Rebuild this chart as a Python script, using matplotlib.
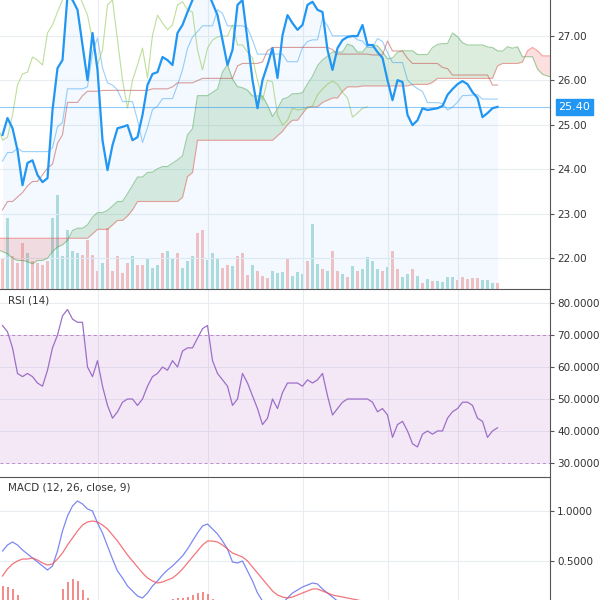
import numpy as np
import matplotlib
matplotlib.use("Agg")
import matplotlib.pyplot as plt
from matplotlib.ticker import FormatStrFormatter

# closes before the visible window (only used to seed the ichimoku lines)
history = [21.8, 21.6, 21.5, 21.7, 21.9, 22.0, 21.8, 21.6, 21.4, 21.6, 21.9, 22.2, 22.4,
           22.3, 22.1, 22.0, 22.3, 22.6, 22.8, 22.7, 22.9, 23.2, 23.5, 23.3, 23.0, 22.8,
           22.6, 22.4, 22.2, 22.0, 21.9, 22.1, 22.3, 22.5, 22.4, 22.2, 22.0, 21.8, 21.7,
           21.9, 22.2, 22.4, 22.6, 22.5, 22.3, 22.1, 22.0, 22.2, 22.4, 22.3, 22.1, 22.0,
           21.9, 21.7, 21.5, 21.4, 21.6, 21.8, 22.1, 22.4, 22.3, 22.6, 22.9, 23.1, 22.9,
           23.2, 23.5, 23.3, 23.1, 23.4, 23.7, 23.9, 23.6, 23.8, 24.1, 24.3, 24.0, 24.5]

close = [24.77, 25.15, 24.92, 24.43, 23.64, 24.14, 24.20, 23.87, 23.71, 23.80,
         25.33, 26.27, 26.45, 27.90, 27.80, 27.58, 26.79, 26.00, 27.06, 26.23,
         24.65, 23.98, 24.54, 24.92, 24.95, 24.99, 24.65, 24.72, 25.22, 25.89,
         26.14, 26.18, 26.52, 26.45, 26.34, 27.06, 27.24, 27.53, 27.80, 28.00,
         28.10, 28.00, 27.73, 27.46, 26.90, 26.34, 26.68, 27.69, 27.80, 26.90,
         26.00, 25.37, 26.00, 26.34, 26.72, 26.05, 27.01, 27.46, 27.28, 27.13,
         27.24, 27.69, 27.76, 27.58, 27.53, 26.68, 26.23, 26.72, 26.90, 26.97,
         26.99, 26.99, 27.24, 26.79, 26.79, 26.63, 26.50, 26.00, 25.55, 26.00,
         25.96, 25.22, 24.99, 25.10, 25.37, 25.33, 25.35, 25.37, 25.42, 25.67,
         25.80, 25.91, 25.98, 25.91, 25.73, 25.60, 25.17, 25.26, 25.37, 25.40]

volume = [31, 71, 33, 26, 46, 36, 28, 26, 24, 28, 71, 94, 33, 59, 38, 36, 34, 49, 34, 18,
          26, 61, 18, 33, 16, 26, 33, 24, 24, 31, 21, 24, 36, 38, 31, 36, 21, 28, 33, 56,
          59, 29, 36, 31, 21, 24, 23, 33, 36, 14, 24, 18, 13, 11, 18, 16,
          17, 30, 13, 17, 15, 28, 65, 25, 20, 18, 38, 18, 15, 12, 23, 18, 20, 32, 28, 20,
          18, 22, 38, 20, 12, 15, 20, 13, 6, 10, 8, 8, 7, 12, 12, 9, 12, 10, 11, 11,
          9, 9, 6, 6]
# g = up bar, r = down bar
vol_dir = ("rgrrrgrrrr" "ggggggrrrr" "grrrrrgrrg" "ggrggrgggr" "rgggrrgrrr"
           "grrrgggrgg" "grggrgrrgr" "grggggrgrr" "ggrgrgrggg" "grrrrrgggr")
vol_up = [c == "g" for c in vol_dir]

rsi = [73, 71, 66, 58, 57, 58, 57, 55, 54, 59, 66, 70, 76, 78, 75, 74, 74, 60, 57, 62,
       54, 48, 44, 46, 49, 50, 50, 48, 50, 54, 57, 58, 60, 59, 62, 60, 65, 66, 66, 69,
       72, 73, 62, 58, 56, 54, 48, 50, 58, 55, 51, 47, 42, 44, 50, 47, 52, 55, 55, 55,
       54, 56, 55, 56, 58, 51, 45, 47, 49, 50, 50, 50, 50, 50, 49, 46, 47, 45, 38, 42,
       43, 40, 36, 35, 39, 40, 39, 40, 40, 44, 46, 47, 49, 49, 48, 44, 43, 38, 40, 41]

macd = [0.60, 0.66, 0.69, 0.66, 0.61, 0.57, 0.53, 0.49, 0.45, 0.41,
        0.45, 0.60, 0.80, 0.95, 1.05, 1.10, 1.07, 1.02, 1.00, 0.88,
        0.78, 0.65, 0.52, 0.40, 0.33, 0.25, 0.20, 0.15, 0.13, 0.18,
        0.25, 0.30, 0.36, 0.41, 0.45, 0.50, 0.55, 0.62, 0.70, 0.78,
        0.85, 0.87, 0.82, 0.77, 0.70, 0.62, 0.49, 0.48, 0.50, 0.40,
        0.30, 0.18, 0.10, 0.05, 0.03, 0.05, 0.08, 0.13, 0.18, 0.21,
        0.24, 0.26, 0.28, 0.27, 0.22, 0.18, 0.14, 0.10, 0.06, 0.03,
        0.00, -0.03, -0.06, -0.09, -0.12, -0.15, -0.19, -0.23, -0.27, -0.30,
        -0.32, -0.36, -0.40, -0.42, -0.43, -0.43, -0.42, -0.41, -0.39, -0.36,
        -0.33, -0.30, -0.27, -0.25, -0.24, -0.24, -0.26, -0.27, -0.27, -0.26]
signal = [0.35, 0.42, 0.47, 0.50, 0.52, 0.52, 0.53, 0.51, 0.48, 0.46,
          0.47, 0.52, 0.58, 0.66, 0.73, 0.80, 0.86, 0.89, 0.90, 0.89,
          0.86, 0.82, 0.76, 0.70, 0.63, 0.56, 0.50, 0.44, 0.38, 0.33,
          0.30, 0.28, 0.29, 0.31, 0.33, 0.37, 0.42, 0.48, 0.54, 0.60,
          0.66, 0.70, 0.70, 0.69, 0.66, 0.62, 0.58, 0.56, 0.54, 0.50,
          0.44, 0.38, 0.32, 0.26, 0.20, 0.16, 0.14, 0.13, 0.14, 0.16,
          0.18, 0.20, 0.22, 0.22, 0.20, 0.18, 0.16, 0.15, 0.14, 0.13,
          0.12, 0.11, 0.10, 0.09, 0.07, 0.04, 0.01, -0.03, -0.07, -0.11,
          -0.15, -0.19, -0.23, -0.27, -0.30, -0.33, -0.35, -0.37, -0.38, -0.38,
          -0.37, -0.36, -0.34, -0.32, -0.30, -0.29, -0.28, -0.28, -0.28, -0.27]

price_ticks = [22, 23, 24, 25, 26, 27]
rsi_ticks = [30, 40, 50, 60, 70, 80]
macd_ticks = [0.5, 1.0]
vgrid = [19, 41, 60, 77, 91]

BLUE = "#2196f3"
TXT = "#333333"


def midpoint(series, n):
    s = np.asarray(series)
    out = np.full(len(s), np.nan)
    for k in range(n - 1, len(s)):
        w = s[k - n + 1:k + 1]
        out[k] = (w.max() + w.min()) / 2
    return out


# ── ichimoku from history + visible closes ──
full = np.array(history + close)
off = len(history)
tenkan = midpoint(full, 9)
kijun = midpoint(full, 26)
span_a = (tenkan + kijun) / 2
span_b = midpoint(full, 52)
x_full = np.arange(len(full)) - off
x_lead = x_full + 26
vis = x_full >= 0

fig = plt.figure(figsize=(6, 6), dpi=100)
W = 550 / 600
ax = fig.add_axes([0, 1 - 289 / 600, W, 289 / 600])
ax_r = fig.add_axes([0, 1 - 477 / 600, W, 187 / 600])
ax_m = fig.add_axes([0, 0, W, 122 / 600])

x = np.arange(len(close))

# volume in the background
axv = ax.twinx()
axv.set_zorder(0); ax.set_zorder(1); ax.patch.set_visible(False)
vcol = ["#26a69a" if u else "#ef5350" for u in vol_up]
axv.bar(x, volume, width=0.72, color=vcol, alpha=0.35, linewidth=0)
axv.set_ylim(0, 289)
axv.set_axis_off()

# cloud
ax.fill_between(x_lead, span_a, span_b, where=span_a >= span_b,
                color="#43a047", alpha=0.18, interpolate=True, linewidth=0)
ax.fill_between(x_lead, span_a, span_b, where=span_a < span_b,
                color="#ef5350", alpha=0.18, interpolate=True, linewidth=0)
ax.plot(x_lead, span_a, color="#43a047", lw=0.8, alpha=0.5)
ax.plot(x_lead, span_b, color="#ef5350", lw=0.8, alpha=0.5)

ax.plot(x_full[vis], tenkan[vis], color=BLUE, lw=0.8, alpha=0.45)
ax.plot(x_full[vis], kijun[vis], color="#c0504d", lw=0.8, alpha=0.55)
ax.plot(x - 26, close, color="#8bc34a", lw=0.8, alpha=0.55)

ax.fill_between(x, close, 21.0, color=BLUE, alpha=0.05, linewidth=0)
ax.plot(x, close, color=BLUE, lw=1.6)
ax.axhline(close[-1], color=BLUE, lw=0.8, alpha=0.5)

ax.set_xlim(-0.5, 109.5)
ax.set_ylim(21.31, 27.8)
ax.set_yticks(price_ticks)
ax.yaxis.set_major_formatter(FormatStrFormatter("%.2f"))
ax.annotate(f"{close[-1]:.2f}", xy=(1, close[-1]), xycoords=("axes fraction", "data"),
            xytext=(6, 0), textcoords="offset points", va="center", ha="left",
            fontsize=8, color="white",
            bbox=dict(boxstyle="square,pad=0.25", fc=BLUE, ec=BLUE))

# RSI
ax_r.axhspan(30, 70, color="#9c27b0", alpha=0.1, linewidth=0)
ax_r.axhline(70, color="#9c27b0", lw=0.7, ls=(0, (3, 3)), alpha=0.5)
ax_r.axhline(30, color="#9c27b0", lw=0.7, ls=(0, (3, 3)), alpha=0.5)
ax_r.plot(x, rsi, color="#9c6fc8", lw=0.9)
ax_r.set_xlim(-0.5, 109.5)
ax_r.set_ylim(25.6, 84.1)
ax_r.set_yticks(rsi_ticks)
ax_r.yaxis.set_major_formatter(FormatStrFormatter("%.4f"))
ax_r.text(0.015, 0.93, "RSI (14)", transform=ax_r.transAxes, fontsize=7.5, color=TXT)

# MACD
hist = np.array(macd) - np.array(signal)
ax_m.vlines(x, 0, hist, color="#ef5350", lw=1.2, alpha=0.8)
ax_m.plot(x, macd, color="#5c6bf0", lw=0.9, alpha=0.8)
ax_m.plot(x, signal, color="#f0525a", lw=0.9, alpha=0.8)
ax_m.set_xlim(-0.5, 109.5)
ax_m.set_ylim(0.11, 1.33)
ax_m.set_yticks(macd_ticks)
ax_m.yaxis.set_major_formatter(FormatStrFormatter("%.4f"))
ax_m.text(0.015, 0.9, "MACD (12, 26, close, 9)", transform=ax_m.transAxes,
          fontsize=7.5, color=TXT)

for a in (ax, ax_r, ax_m):
    a.set_facecolor("none")
    a.yaxis.tick_right()
    a.tick_params(axis="y", labelsize=7.5, labelcolor=TXT, length=3, pad=2,
                  color="#555555")
    a.tick_params(axis="x", length=0, labelbottom=False)
    a.set_xticks(vgrid)
    a.grid(True, color="#e9edf2", lw=0.8)
    a.set_axisbelow(True)
    for s in ("left", "top"):
        a.spines[s].set_visible(False)
    a.spines["right"].set_color("#555555")
    a.spines["bottom"].set_color("#555555")
ax_m.spines["bottom"].set_visible(False)

fig.savefig("out.png", dpi=100)
